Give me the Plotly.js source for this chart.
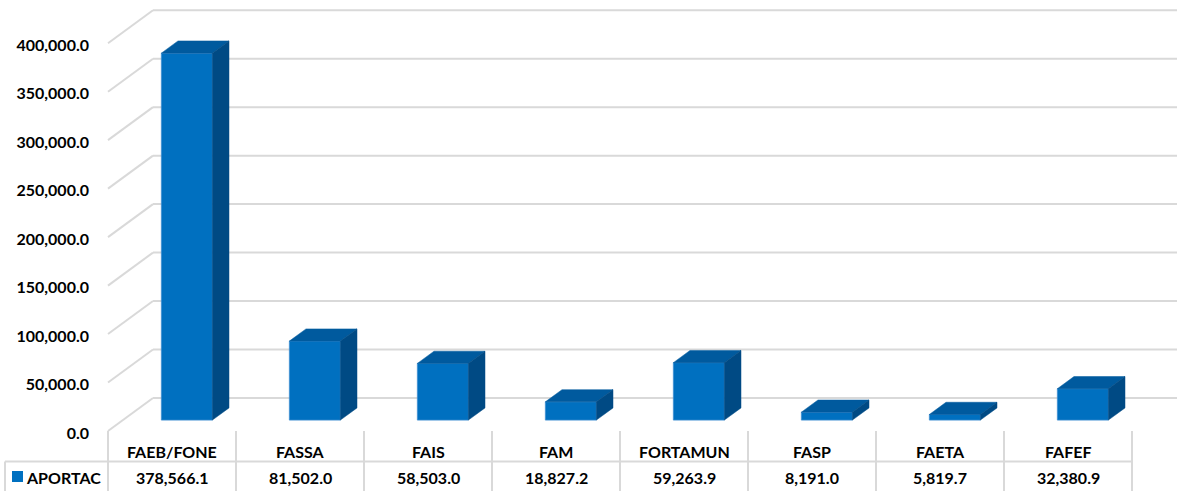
<!DOCTYPE html>
<html>
<head>
<meta charset="utf-8">
<script src="https://cdn.plot.ly/plotly-3.0.1.min.js"></script>
<style>
  html, body { margin: 0; padding: 0; background: #ffffff; }
  #chart { width: 1180px; height: 491px; }
</style>
</head>
<body>
<div id="chart"></div>
<script>
// Fund categories and their APORTAC amounts
const categories = ['FAEB/FONE', 'FASSA', 'FAIS', 'FAM', 'FORTAMUN', 'FASP', 'FAETA', 'FAFEF'];
const aportac = [378566.1, 81502.0, 58503.0, 18827.2, 59263.9, 8191.0, 5819.7, 32380.9];
const seriesName = 'APORTAC';
const tickValues = [0, 50000, 100000, 150000, 200000, 250000, 300000, 350000, 400000];

// Page geometry (pixels)
const W = 1180, H = 491;
const COL = 128;                 // width of one category column
const X0 = 172;                  // centre of category 0 on the front edge of the floor
const FLOOR_Y = 431;             // value 0 on the front edge of the floor
const PX_PER_UNIT = 48.47 / 50000;
const U = 1 / PX_PER_UNIT;       // data units per pixel
const DEPTH_X = 45, DEPTH_Y = 33; // oblique depth of the floor
const BAR_FRONT = 0.33, BAR_BACK = 0.70; // depth fractions of the bar faces
const BAR_W = 51;
const LABEL_DROP = 2;            // tick labels sit slightly below the wall lines

const FRONT_COLOR = '#0070C0';
const TOP_COLOR = '#005A9E';
const SIDE_COLOR = '#004A84';
const GRID_COLOR = '#d9d9d9';
const FONT = 'Lato, "Open Sans", sans-serif';
const FONT_SIZE = 16;

const xRange = [-X0 / COL, -X0 / COL + W / COL];
const yRange = [-(H - FLOOR_Y) * U, FLOOR_Y * U];

function depth(t) {
  return { dx: t * DEPTH_X / COL, dy: t * DEPTH_Y * U };
}
const pxToPaperY = px => 1 - px / H;
const pxToPaperX = px => px / W;

const fmt = v => v.toLocaleString('en-US', { minimumFractionDigits: 1, maximumFractionDigits: 1 });

const f = depth(BAR_FRONT), b = depth(BAR_BACK), back = depth(1);
const halfW = BAR_W / COL / 2;
const ddx = b.dx - f.dx, ddy = b.dy - f.dy;

const traces = [];

// front faces of the bars
traces.push({
  type: 'bar',
  x: categories.map((c, i) => i + f.dx),
  y: aportac,
  base: aportac.map(() => f.dy),
  width: BAR_W / COL,
  marker: { color: FRONT_COLOR, line: { color: '#3f8fd2', width: 0.8 } },
  hoverinfo: 'skip',
  showlegend: false
});

// top and side faces
aportac.forEach((v, i) => {
  const xl = i + f.dx - halfW, xr = i + f.dx + halfW;
  const yt = f.dy + v;
  traces.push({
    type: 'scatter', mode: 'lines', fill: 'toself',
    x: [xl, xr, xr + ddx, xl + ddx, xl],
    y: [yt, yt, yt + ddy, yt + ddy, yt],
    fillcolor: TOP_COLOR, line: { color: TOP_COLOR, width: 0.5 },
    hoverinfo: 'skip', showlegend: false
  });
  traces.push({
    type: 'scatter', mode: 'lines', fill: 'toself',
    x: [xr, xr, xr + ddx, xr + ddx, xr],
    y: [f.dy, yt, yt + ddy, f.dy + ddy, f.dy],
    fillcolor: SIDE_COLOR, line: { color: SIDE_COLOR, width: 0.5 },
    hoverinfo: 'skip', showlegend: false
  });
});

const shapes = [];
const leftX = -0.5, rightX = categories.length - 0.5;

// wall gridlines: diagonal on the side wall, horizontal on the back wall
tickValues.forEach(v => {
  shapes.push({
    type: 'line', xref: 'x', yref: 'y', layer: 'below',
    x0: leftX, y0: v, x1: leftX + back.dx, y1: v + back.dy,
    line: { color: GRID_COLOR, width: 2 }
  });
  shapes.push({
    type: 'line', xref: 'x', yref: 'y', layer: 'below',
    x0: leftX + back.dx, y0: v + back.dy, x1: rightX + back.dx, y1: v + back.dy,
    line: { color: GRID_COLOR, width: 2 }
  });
});

// data table grid
for (let k = 0; k <= categories.length; k++) {
  shapes.push({
    type: 'line', xref: 'x', yref: 'paper',
    x0: leftX + k, x1: leftX + k, y0: pxToPaperY(FLOOR_Y), y1: 0,
    line: { color: GRID_COLOR, width: 2 }
  });
}
shapes.push({
  type: 'line', xref: 'paper', yref: 'paper',
  x0: pxToPaperX(5), x1: pxToPaperX(X0 + COL * rightX), y0: pxToPaperY(461.5), y1: pxToPaperY(461.5),
  line: { color: GRID_COLOR, width: 2 }
});
shapes.push({
  type: 'line', xref: 'paper', yref: 'paper',
  x0: pxToPaperX(5), x1: pxToPaperX(5), y0: pxToPaperY(461.5), y1: 0,
  line: { color: GRID_COLOR, width: 2 }
});
// legend key
shapes.push({
  type: 'rect', xref: 'paper', yref: 'paper',
  x0: pxToPaperX(12), x1: pxToPaperX(23), y0: pxToPaperY(482), y1: pxToPaperY(471),
  fillcolor: FRONT_COLOR, line: { width: 0 }
});

const annotations = [];
const textFont = { family: FONT, size: FONT_SIZE, color: '#000000', weight: 'bold' };
categories.forEach((c, i) => {
  annotations.push({
    xref: 'x', yref: 'paper', x: i, y: pxToPaperY(451),
    text: '<b>' + c + '</b>', showarrow: false, font: textFont,
    xanchor: 'center', yanchor: 'middle'
  });
  annotations.push({
    xref: 'x', yref: 'paper', x: i, y: pxToPaperY(477.5),
    text: '<b>' + fmt(aportac[i]) + '</b>', showarrow: false, font: textFont,
    xanchor: 'center', yanchor: 'middle'
  });
});
annotations.push({
  xref: 'paper', yref: 'paper', x: pxToPaperX(24), y: pxToPaperY(477.5),
  text: '<b>' + seriesName + '</b>', showarrow: false, font: textFont,
  xanchor: 'left', yanchor: 'middle'
});

const layout = {
  width: W, height: H,
  margin: { l: 0, r: 0, t: 0, b: 0 },
  paper_bgcolor: '#ffffff', plot_bgcolor: 'rgba(0,0,0,0)',
  showlegend: false,
  xaxis: { range: xRange, visible: false, fixedrange: true },
  yaxis: { range: yRange, visible: false, fixedrange: true },
  // value axis labels, drawn a couple of pixels under the wall lines
  yaxis2: {
    overlaying: 'y',
    range: [yRange[0] + LABEL_DROP * U, yRange[1] + LABEL_DROP * U],
    anchor: 'free', position: 89 / W, side: 'left',
    tickvals: tickValues, tickformat: ',.1f',
    showgrid: false, zeroline: false, showline: false, ticks: '',
    tickfont: { family: FONT, size: FONT_SIZE, color: '#000000', weight: 'bold' },
    fixedrange: true
  },
  shapes: shapes,
  annotations: annotations
};

// an empty trace keeps the label axis on the page
traces.push({ type: 'scatter', x: [], y: [], yaxis: 'y2', showlegend: false, hoverinfo: 'skip' });

Plotly.newPlot('chart', traces, layout, { displayModeBar: false, staticPlot: true });
</script>
</body>
</html>
